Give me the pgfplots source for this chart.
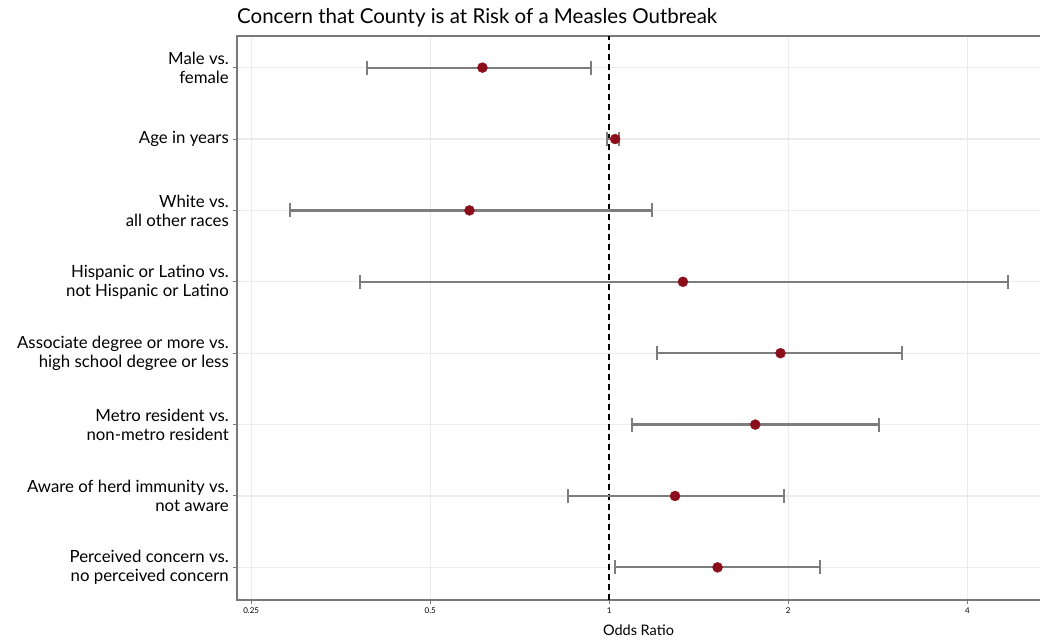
\documentclass[border=0pt]{standalone}
\usepackage{fontspec}
\setmainfont{Lato}
\usepackage{pgfplots}
\pgfplotsset{compat=1.18}
\usepackage{pgfplotstable}
\definecolor{ptred}{RGB}{139,14,26}
\definecolor{cigray}{RGB}{125,125,125}
\definecolor{axgray}{RGB}{120,120,120}
\definecolor{gridgray}{RGB}{235,235,235}
\pgfplotstableread{
y est
8 0.612
7 1.023
6 0.582
5 1.33
4 1.941
3 1.76
2 1.29
1 1.521
}\esttable
\pgfplotstableread{
x y
0.391 8
0.932 8
nan nan
0.993 7
1.040 7
nan nan
0.291 6
1.181 6
nan nan
0.381 5
4.69 5
nan nan
1.203 4
3.11 4
nan nan
1.092 3
2.84 3
nan nan
0.851 2
1.968 2
nan nan
1.022 1
2.261 1
}\citable
\begin{document}
\begin{tikzpicture}
\path[use as bounding box] (-237pt,-41pt) rectangle (803pt,600pt);
\begin{axis}[
  scale only axis,
  width=803pt, height=564pt,
  xmode=log, log basis x=2,
  xmin=0.2366, xmax=5.30,
  ymin=0.543, ymax=8.443,
  xtick={0.25,0.5,1,2,4},
  xticklabels={0.25,0.5,1,2,4},
  ytick={1,2,3,4,5,6,7,8},
  yticklabels={{Perceived concern vs.\\no perceived concern},
               {Aware of herd immunity vs.\\not aware},
               {Metro resident vs.\\non-metro resident},
               {Associate degree or more vs.\\high school degree or less},
               {Hispanic or Latino vs.\\not Hispanic or Latino},
               {White vs.\\all other races},
               {Age in years},
               {Male vs.\\female}},
  /pgf/number format/assume math mode=true,
  xtick pos=bottom, ytick pos=left,
  tick align=outside,
  major tick length=4pt,
  tick style={axgray, line width=1pt},
  grid=major,
  major grid style={gridgray, line width=1.1pt},
  axis line style={draw=none},
  xticklabel style={font=\fontsize{8}{9}\selectfont, anchor=base, yshift=-9pt},
  yticklabel style={font=\fontsize{16.8}{19}\selectfont, align=right, anchor=east, inner sep=0pt, xshift=-4pt},
  title={Concern that County is at Risk of a Measles Outbreak},
  every axis title/.style={font=\fontsize{20.5}{24}\selectfont, anchor=base west, at={(0,1)}, inner sep=0pt, yshift=12.5pt},
  xlabel={Odds Ratio},
  xlabel style={font=\fontsize{14.5}{17}\selectfont, anchor=base, at={(0.5,0)}, yshift=-35pt},
  clip=false,
]
\draw[axgray, line width=1.2pt] (rel axis cs:1,1) -- (rel axis cs:0,1) -- (rel axis cs:0,0) -- (rel axis cs:1,0);
\addplot[black, line width=1.6pt, dash pattern=on 6pt off 4pt] coordinates {(1,0.543) (1,8.443)};
\addplot[cigray, line width=2.2pt, mark=|, mark size=7pt, mark options={solid, line width=2pt}, unbounded coords=jump] table[x=x, y=y] {\citable};
\addplot[only marks, mark=*, mark size=5pt, ptred, mark options={draw=ptred, fill=ptred}] table[x=est, y=y] {\esttable};
\end{axis}
\end{tikzpicture}
\end{document}
